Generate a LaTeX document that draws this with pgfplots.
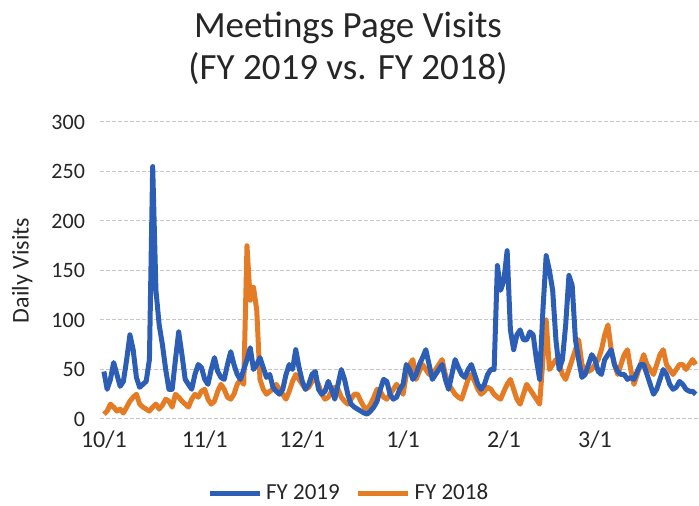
\documentclass[border=0pt]{standalone}
\usepackage{pgfplots}
\pgfplotsset{compat=1.18}
\usepackage{pgfplotstable}
\usepackage{fontspec}
\setmainfont{Carlito}
\definecolor{fyblue}{RGB}{44,94,182}
\definecolor{fyorange}{RGB}{228,124,38}
\definecolor{txt}{RGB}{38,38,38}
\pgfplotstableread{
b o
48 5
30 8
40 15
57 12
45 8
33 10
38 6
60 12
85 18
70 22
42 25
32 15
35 12
38 10
60 8
255 12
130 15
95 10
75 14
50 20
30 18
30 12
60 25
88 22
65 18
40 15
35 12
30 20
45 25
55 22
52 28
40 30
35 20
50 15
62 18
48 28
42 35
40 30
55 22
68 20
55 25
45 35
40 40
50 35
60 175
72 120
50 133
55 110
62 40
52 30
42 25
45 28
32 30
28 35
25 30
30 25
45 20
55 28
50 38
70 45
52 40
38 35
30 30
35 32
45 38
48 40
30 35
25 25
28 20
38 22
30 28
20 32
35 30
50 22
40 18
25 15
15 20
12 25
10 25
8 18
6 12
5 10
8 15
12 22
18 30
30 28
40 22
38 20
25 25
20 30
22 35
30 30
35 25
55 45
50 55
40 60
45 40
55 48
62 55
70 50
55 45
40 45
45 50
50 55
55 60
40 45
30 35
45 30
60 25
52 22
45 20
42 30
50 40
55 45
45 38
35 30
30 25
35 28
45 32
50 30
50 25
155 22
130 20
140 28
170 35
90 40
70 30
85 20
90 15
80 25
80 35
88 30
85 25
60 20
40 15
110 60
165 100
150 50
130 55
80 60
50 55
60 45
95 40
145 50
135 60
80 70
60 80
42 55
45 50
55 48
65 50
60 55
48 60
45 70
60 85
65 95
70 70
55 55
48 45
45 55
45 65
40 70
42 50
40 35
48 45
55 55
55 65
45 55
35 50
25 45
30 55
40 65
50 70
45 55
35 50
30 45
32 50
38 55
35 55
30 50
28 55
28 60
25 55
}\data
\begin{document}
\begin{tikzpicture}
\path[use as bounding box] (-50pt,-43.5pt) rectangle (299.5pt,209.5pt);
\begin{axis}[
  scale only axis,
  width=299.5pt, height=148.5pt,
  xmin=-1.2, xmax=183,
  ymin=0, ymax=300,
  ytick={0,50,100,150,200,250,300},
  xtick={0,31,61,92,123,151},
  xticklabels={10/1,11/1,12/1,1/1,2/1,3/1},
  axis line style={draw=none},
  major tick length=0pt,
  ymajorgrids,
  grid style={black!22, line width=0.5pt, dash pattern=on 2pt off 1pt},
  tick label style={font=\fontsize{11}{13}\selectfont, text=txt},
  /pgf/number format/assume math mode=true,
  yticklabel style={xshift=-4pt},
  xticklabel style={yshift=-2.5pt, font=\fontsize{12}{14}\selectfont},
  ylabel={Daily Visits},
  ylabel style={font=\fontsize{12}{14}\selectfont, text=txt, at={(axis description cs:-0.13,0.5)}, anchor=center},
  legend columns=2,
  legend style={draw=none, fill=none, at={(axis description cs:0.417,-0.25)}, anchor=center,
    font=\fontsize{11.5}{13}\selectfont, text=txt,
    /tikz/every even column/.append style={column sep=6pt}},
  legend image code/.code={\draw[#1, line width=2.4pt] (0pt,0pt) -- (25pt,0pt);},
]
\addplot[fyorange, line width=2.5pt, line join=round, forget plot] table[x expr=\coordindex, y=o] {\data};
\addplot[fyblue, line width=2.5pt, line join=round] table[x expr=\coordindex, y=b] {\data};
\addlegendentry{FY 2019}
\addlegendimage{fyorange}
\addlegendentry{FY 2018}
\end{axis}
\node[font=\fontsize{18.5}{22}\selectfont, text=txt, align=center, anchor=base] at (124pt,190.5pt) {Meetings Page Visits};
\node[font=\fontsize{18.5}{22}\selectfont, text=txt, align=center, anchor=base] at (124pt,169.5pt) {(FY 2019 vs. FY 2018)};
\end{tikzpicture}
\end{document}
